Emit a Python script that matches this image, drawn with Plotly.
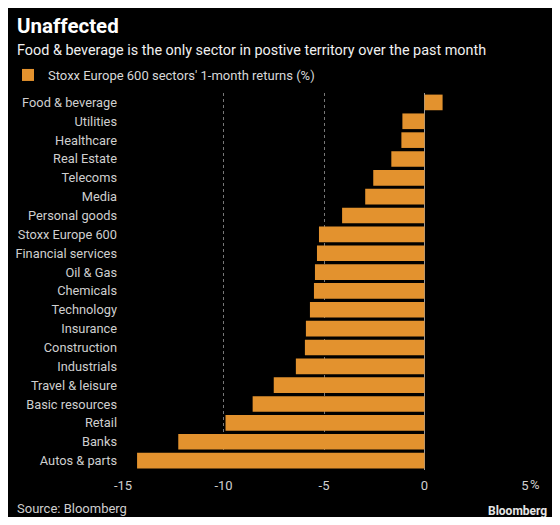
import plotly.graph_objects as go

sectors = ["Food & beverage", "Utilities", "Healthcare", "Real Estate", "Telecoms",
           "Media", "Personal goods", "Stoxx Europe 600", "Financial services",
           "Oil & Gas", "Chemicals", "Technology", "Insurance", "Construction",
           "Industrials", "Travel & leisure", "Basic resources", "Retail", "Banks",
           "Autos & parts"]
returns = [0.9, -1.1, -1.15, -1.65, -2.55, -2.95, -4.1, -5.25, -5.35, -5.45,
           -5.5, -5.7, -5.9, -5.95, -6.4, -7.5, -8.55, -9.9, -12.25, -14.3]
tick_vals = [-15, -10, -5, 0, 5]
tick_text = ["-15", "-10", "-5", "0", "5"]
grid_vals = [-10, -5, 5]

FONT = "Roboto"
BAR = "#E3922E"

# page body has an 8px margin; figure is sized to fit the 560x525 window
OFF = 8
W, H = 560 - 2 * OFF, 525 - 2 * OFF
# plot area in window pixels
PL, PR, PT, PB = 123, 525, 92.5, 470.5
ml, mr = PL - OFF, W - (PR - OFF)
mt, mb = PT - OFF, H - (PB - OFF)
plot_w, plot_h = W - ml - mr, H - mt - mb


def px(xwin):
    return (xwin - OFF - ml) / plot_w


def py(ywin):
    return (H - mb - (ywin - OFF)) / plot_h


fig = go.Figure()
fig.add_trace(go.Bar(
    x=returns, y=sectors, orientation="h",
    marker=dict(color=BAR, line=dict(width=0)),
    name="Stoxx Europe 600 sectors' 1-month returns (%)",
    showlegend=True,
))
fig.add_trace(go.Scatter(x=[None], y=[None], xaxis="x2", showlegend=False))

fig.update_layout(
    width=W, height=H,
    paper_bgcolor="#000000", plot_bgcolor="#000000",
    margin=dict(l=ml, r=mr, t=mt, b=mb, autoexpand=False),
    font=dict(family=FONT, color="#cfcfcf", size=12.8),
    bargap=0.17,
    showlegend=True,
    legend=dict(
        orientation="h", xref="container", yref="container",
        x=-7 / W, y=1 - (75 - OFF) / H, xanchor="left", yanchor="middle",
        font=dict(size=13, color="#d8d8d8", family=FONT),
        bgcolor="rgba(0,0,0,0)", itemclick=False,
    ),
    xaxis=dict(
        range=[-15, 5], tickvals=tick_vals, ticktext=tick_text,
        showgrid=False, zeroline=True, zerolinecolor="#9a9a9a", zerolinewidth=1,
        showline=False, ticks="", ticklabelstandoff=6,
        tickfont=dict(size=13, color="#cfcfcf"),
        layer="below traces",
    ),
    xaxis2=dict(
        range=[-15, 5], overlaying="x", tickvals=grid_vals, showticklabels=False,
        showgrid=True, gridcolor="#777777", griddash="dot", gridwidth=1,
        zeroline=False, showline=False, ticks="",
    ),
    yaxis=dict(
        categoryorder="array", categoryarray=sectors, autorange="reversed",
        showgrid=False, ticks="", ticklabelstandoff=5,
        tickfont=dict(size=12.8, color="#cfcfcf"),
    ),
    annotations=[
        dict(text="<b>Unaffected</b>", xref="paper", yref="paper",
             x=px(15), y=py(25), showarrow=False, xanchor="left", yanchor="middle",
             font=dict(size=20.5, color="#ffffff", family=FONT)),
        dict(text="Food & beverage is the only sector in postive territory over the past month",
             xref="paper", yref="paper", x=px(15), y=py(50), showarrow=False,
             xanchor="left", yanchor="middle",
             font=dict(size=14.4, color="#f0f0f0", family=FONT)),
        dict(text="%", xref="x", yref="paper", x=5, y=py(485), xshift=3,
             showarrow=False, xanchor="left", yanchor="middle",
             font=dict(size=13, color="#cfcfcf", family=FONT)),
        dict(text="Source: Bloomberg", xref="paper", yref="paper",
             x=px(15), y=py(509), showarrow=False, xanchor="left", yanchor="middle",
             font=dict(size=13, color="#cfcfcf", family=FONT)),
        dict(text="<b>Bloomberg</b>", xref="paper", yref="paper",
             x=px(549), y=py(512), showarrow=False, xanchor="right", yanchor="middle",
             font=dict(size=12, color="#e6e6e6", family=FONT)),
    ],
)

fig.write_html("out.html")
